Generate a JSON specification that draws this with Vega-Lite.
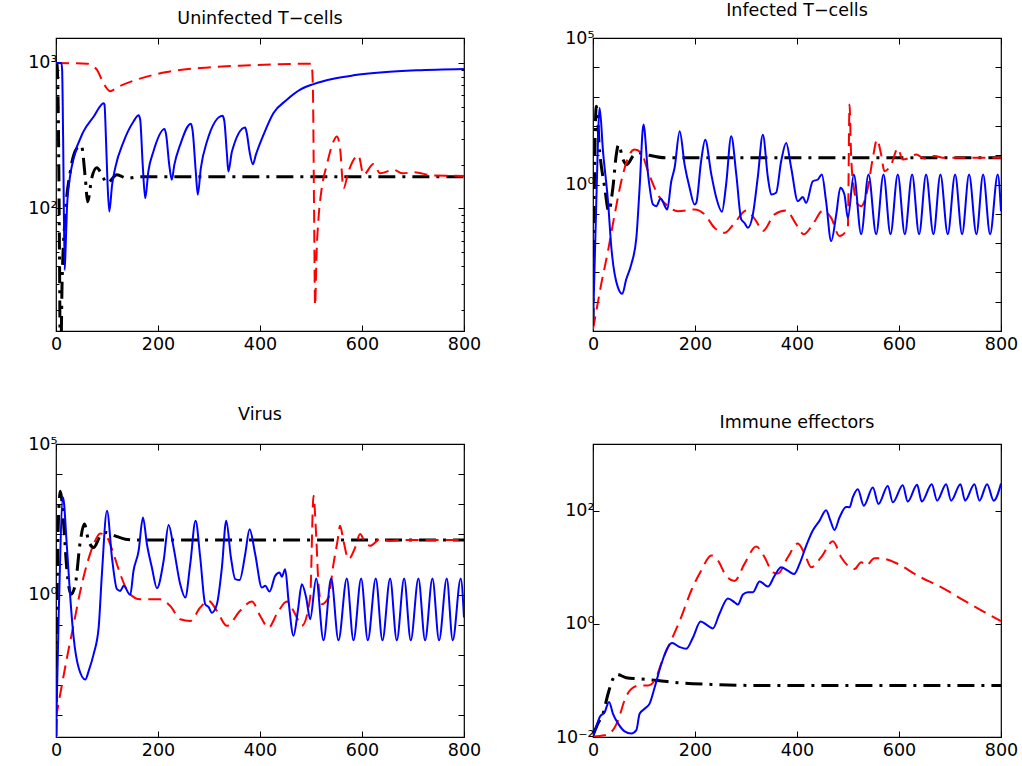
{
  "$schema": "https://vega.github.io/schema/vega-lite/v6.json",
  "autosize": {"type": "pad"},
  "padding": {"left": 27, "top": 0, "right": 5, "bottom": 5},
  "background": "white",
  "config": {
    "view": {"stroke": "black", "strokeWidth": 1.2},
    "font": "DejaVu Sans",
    "axis": {"grid": false, "domain": false, "tickColor": "black", "labelColor": "black", "labelFont": "DejaVu Sans", "labelFontSize": 17.5, "tickWidth": 1},
    "title": {"font": "DejaVu Sans", "fontSize": 17.5, "fontWeight": "normal", "color": "black", "baseline": "alphabetic"},
    "line": {"interpolate": "monotone"}
  },
  "datasets": {
    "p1": [
      {"s":"k","t":0,"v":1000},{"s":"k","t":2,"v":990},{"s":"k","t":5,"v":300},{"s":"k","t":7,"v":40},{"s":"k","t":8.5,"v":8},{"s":"k","t":10.5,"v":14},{"s":"k","t":11.8,"v":29.6},{"s":"k","t":18.3,"v":90},{"s":"k","t":28,"v":179},{"s":"k","t":41,"v":259},{"s":"k","t":49.6,"v":270},{"s":"k","t":57.5,"v":161},{"s":"k","t":62,"v":111},{"s":"k","t":70,"v":161},{"s":"k","t":80,"v":190},{"s":"k","t":93,"v":161},{"s":"k","t":100,"v":149},{"s":"k","t":119.5,"v":170},{"s":"k","t":139,"v":161},{"s":"k","t":165,"v":165},{"s":"k","t":800,"v":165},
      {"s":"r","t":0,"v":1000},{"s":"r","t":61,"v":990},{"s":"r","t":80,"v":900},{"s":"r","t":93,"v":727},{"s":"r","t":106,"v":640},{"s":"r","t":120,"v":680},{"s":"r","t":152,"v":755},{"s":"r","t":217,"v":866},{"s":"r","t":283,"v":924},{"s":"r","t":381,"v":963},{"s":"r","t":501,"v":990},{"s":"r","t":503.6,"v":709},{"s":"r","t":506,"v":100},{"s":"r","t":508,"v":21.5},{"s":"r","t":511,"v":50},{"s":"r","t":514.7,"v":85},{"s":"r","t":521,"v":137},{"s":"r","t":531,"v":199},{"s":"r","t":544,"v":288},{"s":"r","t":550.6,"v":312},{"s":"r","t":557,"v":259},{"s":"r","t":563.7,"v":137},{"s":"r","t":573.5,"v":179},{"s":"r","t":593,"v":231},{"s":"r","t":603,"v":170},{"s":"r","t":622.5,"v":202},{"s":"r","t":635.6,"v":174},{"s":"r","t":661.7,"v":184},{"s":"r","t":680,"v":174},{"s":"r","t":701,"v":177},{"s":"r","t":740,"v":168},{"s":"r","t":800,"v":167},
      {"s":"b","t":0,"v":1000},{"s":"b","t":10.5,"v":1000},{"s":"b","t":12,"v":900},{"s":"b","t":14,"v":300},{"s":"b","t":17,"v":37.6},{"s":"b","t":19,"v":55},{"s":"b","t":21.5,"v":100},{"s":"b","t":27,"v":161},{"s":"b","t":34.6,"v":221},{"s":"b","t":54,"v":338},{"s":"b","t":74,"v":428},{"s":"b","t":93.4,"v":529},{"s":"b","t":95,"v":520},{"s":"b","t":98,"v":300},{"s":"b","t":101,"v":150},{"s":"b","t":104.5,"v":95},{"s":"b","t":110,"v":145},{"s":"b","t":116,"v":189},{"s":"b","t":132.6,"v":288},{"s":"b","t":152,"v":396},{"s":"b","t":162,"v":436},{"s":"b","t":165,"v":410},{"s":"b","t":170,"v":200},{"s":"b","t":175,"v":117},{"s":"b","t":181,"v":179},{"s":"b","t":191,"v":246},{"s":"b","t":213,"v":351},{"s":"b","t":216,"v":320},{"s":"b","t":222,"v":200},{"s":"b","t":227,"v":157},{"s":"b","t":232,"v":199},{"s":"b","t":243.6,"v":274},{"s":"b","t":264.5,"v":382},{"s":"b","t":268,"v":340},{"s":"b","t":274,"v":180},{"s":"b","t":278,"v":124},{"s":"b","t":284,"v":189},{"s":"b","t":296,"v":288},{"s":"b","t":326.5,"v":433},{"s":"b","t":330,"v":400},{"s":"b","t":335,"v":240},{"s":"b","t":338,"v":179},{"s":"b","t":345,"v":246},{"s":"b","t":371,"v":360},{"s":"b","t":374,"v":330},{"s":"b","t":380,"v":240},{"s":"b","t":386,"v":201},{"s":"b","t":392,"v":234},{"s":"b","t":407,"v":321},{"s":"b","t":426.5,"v":452},{"s":"b","t":452.6,"v":558},{"s":"b","t":478.8,"v":655},{"s":"b","t":505,"v":716},{"s":"b","t":544,"v":780},{"s":"b","t":583,"v":822},{"s":"b","t":642,"v":863},{"s":"b","t":707,"v":890},{"s":"b","t":800,"v":910}
    ],
    "p2": [
      {"s":"k","t":0,"v":1.58e-5},{"s":"k","t":2,"v":0.1},{"s":"k","t":4,"v":31.6},{"s":"k","t":6.5,"v":468},{"s":"k","t":13,"v":13.8},{"s":"k","t":23,"v":0.776},{"s":"k","t":30.7,"v":0.123},{"s":"k","t":39,"v":0.776},{"s":"k","t":45.7,"v":10.5},{"s":"k","t":50,"v":22.9},{"s":"k","t":59,"v":7.08},{"s":"k","t":66,"v":4.79},{"s":"k","t":80,"v":10},{"s":"k","t":92.7,"v":12},{"s":"k","t":110,"v":10},{"s":"k","t":145,"v":8.13},{"s":"k","t":800,"v":8.13},
      {"s":"r","t":0,"v":1.15e-5},{"s":"r","t":6.5,"v":4.79e-5},{"s":"r","t":16,"v":0.000389},{"s":"r","t":29.4,"v":0.00537},{"s":"r","t":42.5,"v":0.0955},{"s":"r","t":55.5,"v":1.29},{"s":"r","t":68.6,"v":8.13},{"s":"r","t":81.6,"v":15.5},{"s":"r","t":94.7,"v":12},{"s":"r","t":107.8,"v":2.82},{"s":"r","t":127,"v":0.457},{"s":"r","t":147,"v":0.182},{"s":"r","t":166.6,"v":0.123},{"s":"r","t":199,"v":0.141},{"s":"r","t":218.8,"v":0.0955},{"s":"r","t":238.4,"v":0.0331},{"s":"r","t":258,"v":0.0224},{"s":"r","t":277.6,"v":0.049},{"s":"r","t":300.5,"v":0.129},{"s":"r","t":320,"v":0.0562},{"s":"r","t":333,"v":0.0257},{"s":"r","t":356,"v":0.0955},{"s":"r","t":378.8,"v":0.129},{"s":"r","t":398.4,"v":0.0437},{"s":"r","t":413.5,"v":0.02},{"s":"r","t":431,"v":0.0437},{"s":"r","t":450.7,"v":0.129},{"s":"r","t":467,"v":0.0724},{"s":"r","t":483.3,"v":0.0174},{"s":"r","t":499.7,"v":0.0331},{"s":"r","t":503,"v":537},{"s":"r","t":506,"v":10.5},{"s":"r","t":511.4,"v":0.776},{"s":"r","t":519.3,"v":0.209},{"s":"r","t":525.8,"v":0.182},{"s":"r","t":539,"v":0.776},{"s":"r","t":548.7,"v":8.13},{"s":"r","t":557,"v":33.9},{"s":"r","t":565,"v":10.5},{"s":"r","t":571.5,"v":2.82},{"s":"r","t":584.6,"v":4.79},{"s":"r","t":597.6,"v":17},{"s":"r","t":607.4,"v":7.08},{"s":"r","t":620.5,"v":8.13},{"s":"r","t":633.6,"v":10.5},{"s":"r","t":650,"v":7.76},{"s":"r","t":669.5,"v":9.33},{"s":"r","t":689,"v":8.13},{"s":"r","t":800,"v":8.13},
      {"s":"b","t":0,"v":1.48e-5},{"s":"b","t":6.5,"v":0.269},{"s":"b","t":13,"v":407},{"s":"b","t":19.6,"v":13.8},{"s":"b","t":29.4,"v":0.269},{"s":"b","t":36,"v":0.00692},{"s":"b","t":49,"v":0.000302},{"s":"b","t":57.5,"v":0.000186},{"s":"b","t":65,"v":0.000575},{"s":"b","t":75,"v":0.00186},{"s":"b","t":85,"v":0.0151},{"s":"b","t":91.4,"v":0.776},{"s":"b","t":99,"v":112},{"s":"b","t":108,"v":2.19},{"s":"b","t":117.6,"v":0.209},{"s":"b","t":124,"v":0.182},{"s":"b","t":132.6,"v":0.331},{"s":"b","t":145.6,"v":0.141},{"s":"b","t":153.5,"v":1.29},{"s":"b","t":160,"v":3.72},{"s":"b","t":170,"v":66.1},{"s":"b","t":179.6,"v":4.79},{"s":"b","t":189.4,"v":0.776},{"s":"b","t":199,"v":0.209},{"s":"b","t":202.4,"v":0.234},{"s":"b","t":212,"v":6.31},{"s":"b","t":220,"v":33.9},{"s":"b","t":232,"v":2.19},{"s":"b","t":241.7,"v":0.355},{"s":"b","t":252.8,"v":0.117},{"s":"b","t":261,"v":1},{"s":"b","t":271,"v":44.7},{"s":"b","t":281,"v":2.19},{"s":"b","t":290.7,"v":0.0646},{"s":"b","t":297,"v":0.049},{"s":"b","t":303.7,"v":0.0331},{"s":"b","t":313.5,"v":0.0955},{"s":"b","t":323,"v":1.7},{"s":"b","t":333,"v":50.1},{"s":"b","t":343,"v":1.7},{"s":"b","t":349.4,"v":0.457},{"s":"b","t":359,"v":0.525},{"s":"b","t":369,"v":6.31},{"s":"b","t":378.8,"v":26.3},{"s":"b","t":388.6,"v":3.72},{"s":"b","t":401.7,"v":0.269},{"s":"b","t":411.5,"v":0.372},{"s":"b","t":418,"v":0.234},{"s":"b","t":431,"v":1.29},{"s":"b","t":441,"v":1.48},{"s":"b","t":448.7,"v":2.19},{"s":"b","t":457,"v":0.269},{"s":"b","t":467,"v":0.0117},{"s":"b","t":477,"v":0.0955},{"s":"b","t":485,"v":0.776},{"s":"b","t":493,"v":0.457},{"s":"b","t":499.7,"v":0.0724},{"s":"b","t":511.4,"v":2.19},{"s":"b","t":525.8,"v":0.02},{"s":"b","t":540.2,"v":2.19},{"s":"b","t":555.2,"v":0.02},{"s":"b","t":569.6,"v":2.19},{"s":"b","t":583.3,"v":0.02},{"s":"b","t":597.6,"v":2.19},{"s":"b","t":611.4,"v":0.02},{"s":"b","t":625.7,"v":2.19},{"s":"b","t":639.4,"v":0.02},{"s":"b","t":653.1,"v":2.19},{"s":"b","t":667.5,"v":0.02},{"s":"b","t":681.2,"v":2.19},{"s":"b","t":695.6,"v":0.02},{"s":"b","t":710,"v":2.19},{"s":"b","t":723.7,"v":0.02},{"s":"b","t":737.4,"v":2.19},{"s":"b","t":751.8,"v":0.02},{"s":"b","t":764.9,"v":2.19},{"s":"b","t":778.6,"v":0.02},{"s":"b","t":793.6,"v":2.19},{"s":"b","t":800,"v":0.123}
    ],
    "p3": [
      {"s":"k","t":0,"v":2e-5},{"s":"k","t":3,"v":10},{"s":"k","t":6,"v":1000},{"s":"k","t":8.5,"v":2690},{"s":"k","t":15,"v":219},{"s":"k","t":21.5,"v":6.17},{"s":"k","t":29.4,"v":1.02},{"s":"k","t":37.9,"v":2.19},{"s":"k","t":47.7,"v":60.3},{"s":"k","t":55.5,"v":219},{"s":"k","t":64,"v":60.3},{"s":"k","t":73.8,"v":36.3},{"s":"k","t":86.9,"v":89.1},{"s":"k","t":98.6,"v":115},{"s":"k","t":116,"v":89.1},{"s":"k","t":135.9,"v":69.2},{"s":"k","t":165,"v":64.6},{"s":"k","t":800,"v":64.6},
      {"s":"r","t":0,"v":8.1e-5},{"s":"r","t":11.8,"v":0.00105},{"s":"r","t":21.5,"v":0.00794},{"s":"r","t":34.6,"v":0.102},{"s":"r","t":47.7,"v":1.32},{"s":"r","t":60.7,"v":10.2},{"s":"r","t":73.8,"v":46.8},{"s":"r","t":86.9,"v":107},{"s":"r","t":100,"v":79.4},{"s":"r","t":113,"v":21.9},{"s":"r","t":126,"v":4.79},{"s":"r","t":142.4,"v":1.17},{"s":"r","t":165,"v":0.692},{"s":"r","t":204.4,"v":0.692},{"s":"r","t":224,"v":0.417},{"s":"r","t":243.6,"v":0.151},{"s":"r","t":263.2,"v":0.132},{"s":"r","t":282.8,"v":0.372},{"s":"r","t":299,"v":0.617},{"s":"r","t":315.5,"v":0.288},{"s":"r","t":335,"v":0.0912},{"s":"r","t":361,"v":0.288},{"s":"r","t":384,"v":0.589},{"s":"r","t":400.4,"v":0.195},{"s":"r","t":416.7,"v":0.0794},{"s":"r","t":433,"v":0.224},{"s":"r","t":452.6,"v":0.589},{"s":"r","t":469,"v":0.224},{"s":"r","t":482,"v":0.0912},{"s":"r","t":498.4,"v":0.794},{"s":"r","t":504.9,"v":1910},{"s":"r","t":510,"v":102},{"s":"r","t":514.7,"v":2.19},{"s":"r","t":521.2,"v":0.479},{"s":"r","t":534.3,"v":0.794},{"s":"r","t":544,"v":10.2},{"s":"r","t":552,"v":60.3},{"s":"r","t":557,"v":191},{"s":"r","t":563.7,"v":60.3},{"s":"r","t":573.5,"v":15.1},{"s":"r","t":586.5,"v":36.3},{"s":"r","t":596.3,"v":102},{"s":"r","t":606,"v":53.7},{"s":"r","t":616,"v":41.7},{"s":"r","t":635.5,"v":69.2},{"s":"r","t":655,"v":60.3},{"s":"r","t":674.7,"v":64.6},{"s":"r","t":800,"v":64.6},
      {"s":"b","t":0,"v":1.86e-5},{"s":"b","t":5.2,"v":0.174},{"s":"b","t":13.7,"v":1700},{"s":"b","t":21.5,"v":36.3},{"s":"b","t":28,"v":0.794},{"s":"b","t":34.6,"v":0.0372},{"s":"b","t":44.4,"v":0.00372},{"s":"b","t":57.5,"v":0.00151},{"s":"b","t":64,"v":0.00288},{"s":"b","t":73.8,"v":0.0105},{"s":"b","t":83.6,"v":0.0794},{"s":"b","t":90,"v":4.79},{"s":"b","t":100,"v":603},{"s":"b","t":109.7,"v":17},{"s":"b","t":119.5,"v":1.51},{"s":"b","t":126,"v":1.32},{"s":"b","t":132.6,"v":1.95},{"s":"b","t":145.6,"v":0.977},{"s":"b","t":152,"v":6.17},{"s":"b","t":162,"v":28.2},{"s":"b","t":170.5,"v":363},{"s":"b","t":178.3,"v":46.8},{"s":"b","t":188,"v":7.94},{"s":"b","t":198,"v":1.62},{"s":"b","t":211,"v":13.2},{"s":"b","t":220.8,"v":204},{"s":"b","t":230.6,"v":36.3},{"s":"b","t":243.6,"v":2.19},{"s":"b","t":253.4,"v":0.794},{"s":"b","t":263.2,"v":10.2},{"s":"b","t":273.7,"v":282},{"s":"b","t":282.8,"v":17},{"s":"b","t":292.6,"v":0.479},{"s":"b","t":299,"v":0.389},{"s":"b","t":305.7,"v":0.251},{"s":"b","t":315.5,"v":0.479},{"s":"b","t":325.3,"v":7.94},{"s":"b","t":333.8,"v":282},{"s":"b","t":343,"v":17},{"s":"b","t":351.4,"v":3.24},{"s":"b","t":360,"v":3.02},{"s":"b","t":371,"v":21.9},{"s":"b","t":379.5,"v":148},{"s":"b","t":390.6,"v":21.9},{"s":"b","t":403.7,"v":1.7},{"s":"b","t":410.2,"v":1.95},{"s":"b","t":418.7,"v":1.26},{"s":"b","t":429.8,"v":4.17},{"s":"b","t":438.3,"v":5.37},{"s":"b","t":442.8,"v":3.89},{"s":"b","t":449.4,"v":6.92},{"s":"b","t":456,"v":0.617},{"s":"b","t":465.7,"v":0.0427},{"s":"b","t":474.2,"v":0.288},{"s":"b","t":482,"v":2.19},{"s":"b","t":490.5,"v":0.794},{"s":"b","t":498.4,"v":0.151},{"s":"b","t":510.1,"v":3.39},{"s":"b","t":524.5,"v":0.0302},{"s":"b","t":539.5,"v":3.39},{"s":"b","t":553.9,"v":0.0302},{"s":"b","t":570.2,"v":3.39},{"s":"b","t":583.3,"v":0.0302},{"s":"b","t":598.3,"v":3.39},{"s":"b","t":611.4,"v":0.0302},{"s":"b","t":627,"v":3.39},{"s":"b","t":640.1,"v":0.0302},{"s":"b","t":655.1,"v":3.39},{"s":"b","t":668.2,"v":0.0302},{"s":"b","t":682.6,"v":3.39},{"s":"b","t":695.6,"v":0.0302},{"s":"b","t":710.6,"v":3.39},{"s":"b","t":723.7,"v":0.0302},{"s":"b","t":738.1,"v":3.39},{"s":"b","t":751.1,"v":0.0302},{"s":"b","t":766.2,"v":3.39},{"s":"b","t":777.9,"v":0.0302},{"s":"b","t":793.6,"v":3.39},{"s":"b","t":800,"v":0.174}
    ],
    "p4": [
      {"s":"k","t":0,"v":0.0107},{"s":"k","t":9.8,"v":0.0174},{"s":"k","t":19.6,"v":0.0257},{"s":"k","t":29.4,"v":0.0575},{"s":"k","t":39.2,"v":0.107},{"s":"k","t":45.7,"v":0.129},{"s":"k","t":65.3,"v":0.112},{"s":"k","t":88,"v":0.107},{"s":"k","t":127,"v":0.1},{"s":"k","t":166.6,"v":0.0912},{"s":"k","t":232,"v":0.0851},{"s":"k","t":330,"v":0.0813},{"s":"k","t":493,"v":0.0813},{"s":"k","t":800,"v":0.0813},
      {"s":"r","t":0,"v":0.0102},{"s":"r","t":22.9,"v":0.0107},{"s":"r","t":36,"v":0.0123},{"s":"r","t":49,"v":0.0195},{"s":"r","t":62,"v":0.0447},{"s":"r","t":75,"v":0.0708},{"s":"r","t":91.4,"v":0.0813},{"s":"r","t":107.8,"v":0.0813},{"s":"r","t":121,"v":0.1},{"s":"r","t":137,"v":0.24},{"s":"r","t":153.5,"v":0.513},{"s":"r","t":173,"v":1.32},{"s":"r","t":192.7,"v":3.89},{"s":"r","t":212,"v":8.71},{"s":"r","t":232,"v":16.2},{"s":"r","t":245,"v":13.2},{"s":"r","t":261,"v":7.08},{"s":"r","t":277.6,"v":5.75},{"s":"r","t":297,"v":11.5},{"s":"r","t":320,"v":23.4},{"s":"r","t":336.4,"v":15.1},{"s":"r","t":352.7,"v":8.13},{"s":"r","t":362.5,"v":7.76},{"s":"r","t":382,"v":15.1},{"s":"r","t":401.7,"v":26.3},{"s":"r","t":414.8,"v":17.4},{"s":"r","t":427.8,"v":10},{"s":"r","t":447.4,"v":15.1},{"s":"r","t":470.3,"v":28.8},{"s":"r","t":486.6,"v":15.1},{"s":"r","t":499.7,"v":10.7},{"s":"r","t":512.7,"v":9.33},{"s":"r","t":525.8,"v":12.3},{"s":"r","t":535.6,"v":10.7},{"s":"r","t":552,"v":14.5},{"s":"r","t":571.5,"v":14.1},{"s":"r","t":597.6,"v":11.5},{"s":"r","t":637,"v":7.08},{"s":"r","t":682.5,"v":4.47},{"s":"r","t":728,"v":2.57},{"s":"r","t":767.5,"v":1.62},{"s":"r","t":800,"v":1.12},
      {"s":"b","t":0,"v":0.0102},{"s":"b","t":6.5,"v":0.0151},{"s":"b","t":13,"v":0.0224},{"s":"b","t":22.9,"v":0.0275},{"s":"b","t":31.4,"v":0.0417},{"s":"b","t":39.2,"v":0.0257},{"s":"b","t":49,"v":0.0174},{"s":"b","t":62,"v":0.0126},{"s":"b","t":75,"v":0.0115},{"s":"b","t":85,"v":0.0132},{"s":"b","t":91.4,"v":0.0257},{"s":"b","t":101.2,"v":0.0316},{"s":"b","t":111,"v":0.0389},{"s":"b","t":121,"v":0.0759},{"s":"b","t":134,"v":0.195},{"s":"b","t":147,"v":0.389},{"s":"b","t":155,"v":0.457},{"s":"b","t":170,"v":0.389},{"s":"b","t":183,"v":0.363},{"s":"b","t":196,"v":0.575},{"s":"b","t":211,"v":1.1},{"s":"b","t":225,"v":0.933},{"s":"b","t":235,"v":0.832},{"s":"b","t":248,"v":1.51},{"s":"b","t":264.5,"v":2.82},{"s":"b","t":277.6,"v":2.4},{"s":"b","t":284,"v":2.19},{"s":"b","t":294,"v":3.31},{"s":"b","t":303.7,"v":3.63},{"s":"b","t":313.5,"v":3.63},{"s":"b","t":326.6,"v":5.62},{"s":"b","t":343,"v":4.57},{"s":"b","t":356,"v":7.08},{"s":"b","t":369,"v":10},{"s":"b","t":382,"v":8.71},{"s":"b","t":394,"v":7.59},{"s":"b","t":405,"v":11.5},{"s":"b","t":418,"v":24},{"s":"b","t":431,"v":44.7},{"s":"b","t":444,"v":66.1},{"s":"b","t":457,"v":102},{"s":"b","t":465.7,"v":66.1},{"s":"b","t":473.5,"v":45.7},{"s":"b","t":483.3,"v":75.9},{"s":"b","t":496.4,"v":117},{"s":"b","t":503,"v":115},{"s":"b","t":509.5,"v":174},{"s":"b","t":519.3,"v":240},{"s":"b","t":531,"v":123},{"s":"b","t":548.7,"v":257},{"s":"b","t":559.8,"v":132},{"s":"b","t":578,"v":275},{"s":"b","t":587.9,"v":141},{"s":"b","t":607.4,"v":282},{"s":"b","t":617.2,"v":145},{"s":"b","t":635.5,"v":288},{"s":"b","t":644.7,"v":145},{"s":"b","t":664.3,"v":295},{"s":"b","t":674.7,"v":151},{"s":"b","t":692.4,"v":295},{"s":"b","t":702.2,"v":151},{"s":"b","t":720.5,"v":295},{"s":"b","t":729.6,"v":151},{"s":"b","t":747.9,"v":295},{"s":"b","t":757.7,"v":151},{"s":"b","t":772.7,"v":295},{"s":"b","t":785.8,"v":151},{"s":"b","t":800,"v":302}
    ]
  },
  "columns": 2,
  "spacing": {"row": 113, "column": 129},
  "bounds": "flush",
  "concat": [
    {
      "width": 408, "height": 293,
      "title": {"text": "Uninfected T−cells", "offset": 10},
      "data": {"name": "p1"},
      "resolve": {"axis": {"x": "independent", "y": "independent"}},
      "layer": [
        {"mark": {"type": "line", "strokeOpacity": 0},
         "encoding": {
           "x": {"field": "t", "type": "quantitative", "scale": {"domain": [0, 800], "nice": false}, "axis": {"orient": "bottom", "values": [0, 200, 400, 600, 800], "title": null, "labelFlush": false, "labelOverlap": false, "labelPadding": 10, "tickSize": -6}},
           "y": {"field": "v", "type": "quantitative", "scale": {"type": "log", "domain": [14.3, 1486], "nice": false}, "axis": {"orient": "left", "values": [100, 1000], "labelExpr": "datum.value == 100 ? '10²' : '10³'", "title": null, "labelFlush": false, "labelOverlap": false, "labelPadding": 5, "tickSize": -6}}
         }},
        {"mark": {"type": "line", "strokeOpacity": 0},
         "encoding": {
           "x": {"field": "t", "type": "quantitative", "scale": {"domain": [0, 800], "nice": false}, "axis": {"orient": "top", "values": [0, 200, 400, 600, 800], "title": null, "labels": false, "tickSize": -6}},
           "y": {"field": "v", "type": "quantitative", "scale": {"type": "log", "domain": [14.3, 1486], "nice": false}, "axis": {"orient": "right", "values": [100, 1000], "title": null, "labels": false, "tickSize": -6}}
         }},
        {"mark": {"type": "line", "strokeOpacity": 0},
         "encoding": {
           "x": {"field": "t", "type": "quantitative", "scale": {"domain": [0, 800], "nice": false}, "axis": null},
           "y": {"field": "v", "type": "quantitative", "scale": {"type": "log", "domain": [14.3, 1486], "nice": false}, "axis": {"orient": "left", "values": [20, 30, 40, 50, 60, 70, 80, 90, 200, 300, 400, 500, 600, 700, 800, 900], "title": null, "labels": false, "tickSize": -3}}
         }},
        {"mark": {"type": "line", "strokeOpacity": 0},
         "encoding": {
           "x": {"field": "t", "type": "quantitative", "scale": {"domain": [0, 800], "nice": false}, "axis": null},
           "y": {"field": "v", "type": "quantitative", "scale": {"type": "log", "domain": [14.3, 1486], "nice": false}, "axis": {"orient": "right", "values": [20, 30, 40, 50, 60, 70, 80, 90, 200, 300, 400, 500, 600, 700, 800, 900], "title": null, "labels": false, "tickSize": -3}}
         }},
        {"transform": [{"filter": "datum.s == 'k'"}], "mark": {"type": "line", "clip": true, "color": "black", "strokeWidth": 3, "strokeDash": [17, 7, 3, 7]},
         "encoding": {"x": {"field": "t", "type": "quantitative", "scale": {"domain": [0, 800], "nice": false}, "axis": null}, "y": {"field": "v", "type": "quantitative", "scale": {"type": "log", "domain": [14.3, 1486], "nice": false}, "axis": null}}},
        {"transform": [{"filter": "datum.s == 'r'"}], "mark": {"type": "line", "clip": true, "color": "#ff0000", "strokeWidth": 2, "strokeDash": [13, 7]},
         "encoding": {"x": {"field": "t", "type": "quantitative", "scale": {"domain": [0, 800], "nice": false}, "axis": null}, "y": {"field": "v", "type": "quantitative", "scale": {"type": "log", "domain": [14.3, 1486], "nice": false}, "axis": null}}},
        {"transform": [{"filter": "datum.s == 'b'"}], "mark": {"type": "line", "clip": true, "color": "#0000ff", "strokeWidth": 2},
         "encoding": {"x": {"field": "t", "type": "quantitative", "scale": {"domain": [0, 800], "nice": false}, "axis": null}, "y": {"field": "v", "type": "quantitative", "scale": {"type": "log", "domain": [14.3, 1486], "nice": false}, "axis": null}}}
      ]
    },
    {
      "width": 408, "height": 293,
      "title": {"text": "Infected T−cells", "offset": 10},
      "data": {"name": "p2"},
      "resolve": {"axis": {"x": "independent", "y": "independent"}},
      "layer": [
        {"mark": {"type": "line", "strokeOpacity": 0},
         "encoding": {
           "x": {"field": "t", "type": "quantitative", "scale": {"domain": [0, 800], "nice": false}, "axis": {"orient": "bottom", "values": [0, 200, 400, 600, 800], "title": null, "labelFlush": false, "labelOverlap": false, "labelPadding": 10, "tickSize": -6}},
           "y": {"field": "v", "type": "quantitative", "scale": {"type": "log", "domain": [1e-5, 100000], "nice": false}, "axis": {"orient": "left", "values": [1e-5, 1e-4, 0.001, 0.01, 0.1, 1, 10, 100, 1000, 10000, 100000], "labelExpr": "datum.value == 1 ? '10⁰' : datum.value == 100000 ? '10⁵' : ''", "title": null, "labelFlush": false, "labelOverlap": false, "labelPadding": 5, "tickSize": -6}}
         }},
        {"mark": {"type": "line", "strokeOpacity": 0},
         "encoding": {
           "x": {"field": "t", "type": "quantitative", "scale": {"domain": [0, 800], "nice": false}, "axis": {"orient": "top", "values": [0, 200, 400, 600, 800], "title": null, "labels": false, "tickSize": -6}},
           "y": {"field": "v", "type": "quantitative", "scale": {"type": "log", "domain": [1e-5, 100000], "nice": false}, "axis": {"orient": "right", "values": [1e-5, 1e-4, 0.001, 0.01, 0.1, 1, 10, 100, 1000, 10000, 100000], "title": null, "labels": false, "tickSize": -6}}
         }},
        {"transform": [{"filter": "datum.s == 'k'"}], "mark": {"type": "line", "clip": true, "color": "black", "strokeWidth": 3, "strokeDash": [17, 7, 3, 7]},
         "encoding": {"x": {"field": "t", "type": "quantitative", "scale": {"domain": [0, 800], "nice": false}, "axis": null}, "y": {"field": "v", "type": "quantitative", "scale": {"type": "log", "domain": [1e-5, 100000], "nice": false}, "axis": null}}},
        {"transform": [{"filter": "datum.s == 'r'"}], "mark": {"type": "line", "clip": true, "color": "#ff0000", "strokeWidth": 2, "strokeDash": [13, 7]},
         "encoding": {"x": {"field": "t", "type": "quantitative", "scale": {"domain": [0, 800], "nice": false}, "axis": null}, "y": {"field": "v", "type": "quantitative", "scale": {"type": "log", "domain": [1e-5, 100000], "nice": false}, "axis": null}}},
        {"transform": [{"filter": "datum.s == 'b'"}], "mark": {"type": "line", "clip": true, "color": "#0000ff", "strokeWidth": 2},
         "encoding": {"x": {"field": "t", "type": "quantitative", "scale": {"domain": [0, 800], "nice": false}, "axis": null}, "y": {"field": "v", "type": "quantitative", "scale": {"type": "log", "domain": [1e-5, 100000], "nice": false}, "axis": null}}}
      ]
    },
    {
      "width": 408, "height": 293,
      "title": {"text": "Virus", "offset": 12},
      "data": {"name": "p3"},
      "resolve": {"axis": {"x": "independent", "y": "independent"}},
      "layer": [
        {"mark": {"type": "line", "strokeOpacity": 0},
         "encoding": {
           "x": {"field": "t", "type": "quantitative", "scale": {"domain": [0, 800], "nice": false}, "axis": {"orient": "bottom", "values": [0, 200, 400, 600, 800], "title": null, "labelFlush": false, "labelOverlap": false, "labelPadding": 10, "tickSize": -6}},
           "y": {"field": "v", "type": "quantitative", "scale": {"type": "log", "domain": [1.86e-5, 100000], "nice": false}, "axis": {"orient": "left", "values": [1e-4, 0.001, 0.01, 0.1, 1, 10, 100, 1000, 10000, 100000], "labelExpr": "datum.value == 1 ? '10⁰' : datum.value == 100000 ? '10⁵' : ''", "title": null, "labelFlush": false, "labelOverlap": false, "labelPadding": 5, "tickSize": -6}}
         }},
        {"mark": {"type": "line", "strokeOpacity": 0},
         "encoding": {
           "x": {"field": "t", "type": "quantitative", "scale": {"domain": [0, 800], "nice": false}, "axis": {"orient": "top", "values": [0, 200, 400, 600, 800], "title": null, "labels": false, "tickSize": -6}},
           "y": {"field": "v", "type": "quantitative", "scale": {"type": "log", "domain": [1.86e-5, 100000], "nice": false}, "axis": {"orient": "right", "values": [1e-4, 0.001, 0.01, 0.1, 1, 10, 100, 1000, 10000, 100000], "title": null, "labels": false, "tickSize": -6}}
         }},
        {"transform": [{"filter": "datum.s == 'k'"}], "mark": {"type": "line", "clip": true, "color": "black", "strokeWidth": 3, "strokeDash": [17, 7, 3, 7]},
         "encoding": {"x": {"field": "t", "type": "quantitative", "scale": {"domain": [0, 800], "nice": false}, "axis": null}, "y": {"field": "v", "type": "quantitative", "scale": {"type": "log", "domain": [1.86e-5, 100000], "nice": false}, "axis": null}}},
        {"transform": [{"filter": "datum.s == 'r'"}], "mark": {"type": "line", "clip": true, "color": "#ff0000", "strokeWidth": 2, "strokeDash": [13, 7]},
         "encoding": {"x": {"field": "t", "type": "quantitative", "scale": {"domain": [0, 800], "nice": false}, "axis": null}, "y": {"field": "v", "type": "quantitative", "scale": {"type": "log", "domain": [1.86e-5, 100000], "nice": false}, "axis": null}}},
        {"transform": [{"filter": "datum.s == 'b'"}], "mark": {"type": "line", "clip": true, "color": "#0000ff", "strokeWidth": 2},
         "encoding": {"x": {"field": "t", "type": "quantitative", "scale": {"domain": [0, 800], "nice": false}, "axis": null}, "y": {"field": "v", "type": "quantitative", "scale": {"type": "log", "domain": [1.86e-5, 100000], "nice": false}, "axis": null}}}
      ]
    },
    {
      "width": 408, "height": 293,
      "title": {"text": "Immune effectors", "offset": 12},
      "data": {"name": "p4"},
      "resolve": {"axis": {"x": "independent", "y": "independent"}},
      "layer": [
        {"mark": {"type": "line", "strokeOpacity": 0},
         "encoding": {
           "x": {"field": "t", "type": "quantitative", "scale": {"domain": [0, 800], "nice": false}, "axis": {"orient": "bottom", "values": [0, 200, 400, 600, 800], "title": null, "labelFlush": false, "labelOverlap": false, "labelPadding": 10, "tickSize": -6}},
           "y": {"field": "v", "type": "quantitative", "scale": {"type": "log", "domain": [0.01, 1514], "nice": false}, "axis": {"orient": "left", "values": [0.01, 1, 100], "labelExpr": "datum.value == 0.01 ? '10⁻²' : datum.value == 1 ? '10⁰' : '10²'", "title": null, "labelFlush": false, "labelOverlap": false, "labelPadding": 5, "tickSize": -6}}
         }},
        {"mark": {"type": "line", "strokeOpacity": 0},
         "encoding": {
           "x": {"field": "t", "type": "quantitative", "scale": {"domain": [0, 800], "nice": false}, "axis": {"orient": "top", "values": [0, 200, 400, 600, 800], "title": null, "labels": false, "tickSize": -6}},
           "y": {"field": "v", "type": "quantitative", "scale": {"type": "log", "domain": [0.01, 1514], "nice": false}, "axis": {"orient": "right", "values": [0.01, 1, 100], "title": null, "labels": false, "tickSize": -6}}
         }},
        {"transform": [{"filter": "datum.s == 'k'"}], "mark": {"type": "line", "clip": true, "color": "black", "strokeWidth": 3, "strokeDash": [17, 7, 3, 7]},
         "encoding": {"x": {"field": "t", "type": "quantitative", "scale": {"domain": [0, 800], "nice": false}, "axis": null}, "y": {"field": "v", "type": "quantitative", "scale": {"type": "log", "domain": [0.01, 1514], "nice": false}, "axis": null}}},
        {"transform": [{"filter": "datum.s == 'r'"}], "mark": {"type": "line", "clip": true, "color": "#ff0000", "strokeWidth": 2, "strokeDash": [13, 7]},
         "encoding": {"x": {"field": "t", "type": "quantitative", "scale": {"domain": [0, 800], "nice": false}, "axis": null}, "y": {"field": "v", "type": "quantitative", "scale": {"type": "log", "domain": [0.01, 1514], "nice": false}, "axis": null}}},
        {"transform": [{"filter": "datum.s == 'b'"}], "mark": {"type": "line", "clip": true, "color": "#0000ff", "strokeWidth": 2},
         "encoding": {"x": {"field": "t", "type": "quantitative", "scale": {"domain": [0, 800], "nice": false}, "axis": null}, "y": {"field": "v", "type": "quantitative", "scale": {"type": "log", "domain": [0.01, 1514], "nice": false}, "axis": null}}}
      ]
    }
  ]
}
